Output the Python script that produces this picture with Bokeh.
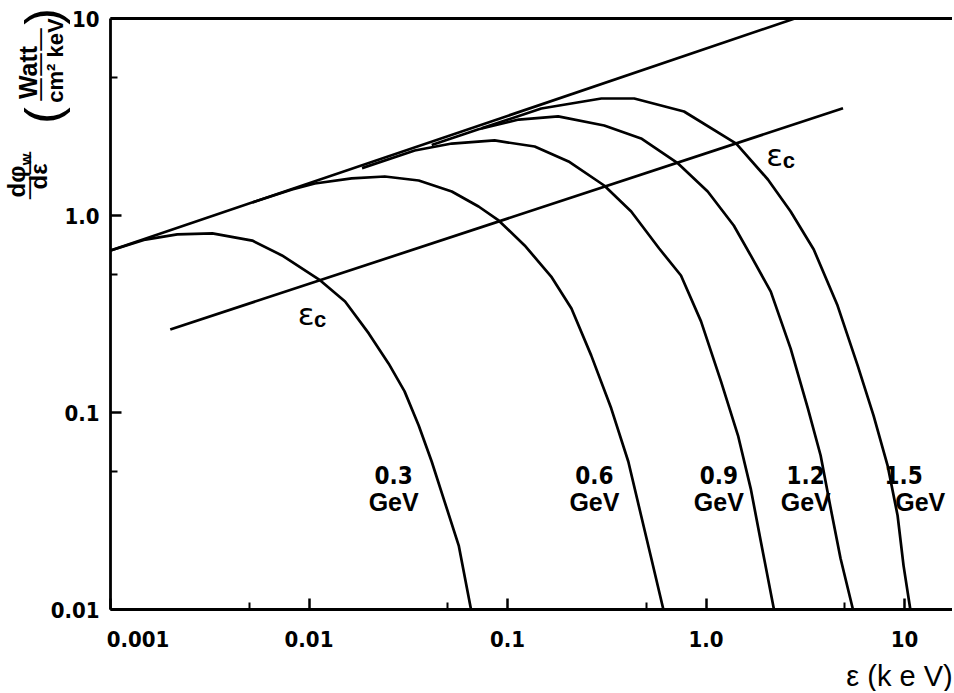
from bokeh.plotting import figure
from bokeh.models import (FixedTicker, CustomJSTickFormatter, Label, LogAxis,
                          LabelSet, ColumnDataSource)
from bokeh.core.properties import value
from bokeh.embed import file_html
from bokeh.resources import INLINE

# ---------------- data ----------------
# low-energy asymptote (upper straight line) and critical-energy line
env_e = [0.001, 2.8]
env_p = [0.664, 10.0]
ec_e = [0.0020, 4.9]
ec_p = [0.264, 3.5]

# spectra dphi/de (Watt/cm2 keV) vs photon energy e (keV)
e03 = [0.001, 0.00150, 0.00217, 0.00326, 0.00518, 0.00731, 0.0114, 0.0152,
       0.0200, 0.0252, 0.0303, 0.0357, 0.0415, 0.0482, 0.0568, 0.0655]
p03 = [0.664, 0.755, 0.802, 0.811, 0.746, 0.627, 0.468, 0.366,
       0.252, 0.177, 0.128, 0.0859, 0.0564, 0.0353, 0.0211, 0.0100]

e06 = [0.00518, 0.00822, 0.0107, 0.0164, 0.0241, 0.0357, 0.0524, 0.0715,
       0.0902, 0.122, 0.166, 0.210, 0.264, 0.333, 0.406, 0.471, 0.530, 0.610]
p06 = [1.164, 1.355, 1.453, 1.542, 1.578, 1.506, 1.324, 1.111,
       0.944, 0.705, 0.490, 0.337, 0.195, 0.105, 0.0564, 0.0300, 0.0182, 0.0100]

e09 = [0.0185, 0.0341, 0.0524, 0.0861, 0.137, 0.203, 0.307, 0.420,
       0.581, 0.748, 0.944, 1.19, 1.45, 1.68, 1.89, 2.20]
p09 = [1.74, 2.138, 2.319, 2.404, 2.239, 1.880, 1.420, 1.048,
       0.680, 0.496, 0.290, 0.144, 0.0764, 0.0411, 0.0221, 0.0100]

e12 = [0.0415, 0.0715, 0.114, 0.180, 0.307, 0.471, 0.723, 1.02,
       1.38, 1.68, 2.12, 2.67, 3.26, 3.78, 4.25, 4.76, 5.50]
p12 = [2.28, 2.74, 3.069, 3.184, 2.864, 2.460, 1.837, 1.324,
       0.890, 0.627, 0.411, 0.211, 0.105, 0.0605, 0.0326, 0.0182, 0.0100]

e15 = [0.0740, 0.148, 0.297, 0.435, 0.775, 1.42, 2.05, 2.67,
       3.49, 4.60, 5.81, 6.98, 8.22, 9.23, 9.89, 10.7]
p15 = [2.77, 3.491, 3.926, 3.926, 3.373, 2.319, 1.523, 1.048,
       0.672, 0.349, 0.173, 0.0966, 0.0538, 0.0300, 0.0167, 0.0100]

# curve labels
energies = ["0.3", "0.6", "0.9", "1.2", "1.5"]
num_x = [0.0267, 0.274, 1.16, 3.18, 9.89]
num_y = [0.0479, 0.0479, 0.0479, 0.0479, 0.0479]
unit_x = [0.0267, 0.274, 1.16, 3.18, 12.0]
unit_y = [0.0353, 0.0353, 0.0353, 0.0353, 0.0353]
ec_label_x = [0.00966, 2.22]
ec_label_y = [0.318, 2.04]

# axes
x_lo, y_lo, y_hi = 0.001, 0.01, 10
x_ticks = [0.001, 0.01, 0.1, 1, 10]
x_tick_labels = ["\u00a0" * 8 + "0.001", "0.01", "0.1", "1.0", "10"]
x_minor = [0.005, 0.05, 0.5, 5]
y_ticks = [0.01, 0.1, 1, 10]
y_tick_labels = ["0.01", "0.1", "1.0", "10"]
y_minor = [0.05, 0.5, 5]

# ---------------- geometry (pixels) ----------------
W, H = 952, 691
AX_X = 110      # pixel column of the y axis (e = 0.001)
AX_TOP = 18     # pixel row of y = 10
DX, DY = 198.5, 197.0   # pixels per decade
x_start = 10 ** (-3 - AX_X / DX)
x_end = 10 ** (-3 + (W - AX_X) / DX)
y_end = 10 ** (1 + AX_TOP / DY)
y_start = 10 ** (-2 - (H - AX_TOP - 3 * DY) / DY)

TICK_FONT = "DejaVu Sans Condensed"
SANS = "Liberation Sans"

p = figure(width=W, height=H, x_axis_type="log", y_axis_type="log",
           x_range=(x_start, x_end), y_range=(y_start, y_end),
           output_backend="svg", toolbar_location=None, min_border=0)
p.grid.visible = False
p.outline_line_color = None
p.background_fill_color = "white"
p.border_fill_color = "white"

fmt_code = """
for (let i = 0; i < vals.length; i++) {
  if (Math.abs(Math.log10(tick) - Math.log10(vals[i])) < 1e-6) return labs[i];
}
return "";
"""
xa = p.xaxis[0]
ya = p.yaxis[0]
xa.fixed_location = y_lo
ya.fixed_location = x_lo
xa.bounds = (x_lo, x_end)
ya.bounds = (y_lo, y_hi)
xa.ticker = FixedTicker(ticks=x_ticks, minor_ticks=x_minor)
ya.ticker = FixedTicker(ticks=y_ticks, minor_ticks=y_minor)
xa.formatter = CustomJSTickFormatter(args=dict(vals=x_ticks, labs=x_tick_labels), code=fmt_code)
ya.formatter = CustomJSTickFormatter(args=dict(vals=y_ticks, labs=y_tick_labels), code=fmt_code)

for ax in (xa, ya):
    ax.axis_line_width = 2.8
    ax.axis_line_color = "black"
    ax.major_tick_in = 11
    ax.major_tick_out = 0
    ax.minor_tick_in = 7
    ax.minor_tick_out = 0
    ax.major_tick_line_width = 2.5
    ax.minor_tick_line_width = 2
    ax.major_tick_line_color = "black"
    ax.minor_tick_line_color = "black"
    ax.major_label_text_font = TICK_FONT
    ax.major_label_text_font_style = "bold"
    ax.major_label_text_font_size = "22px"
    ax.major_label_text_color = "black"
xa.major_label_standoff = 17
ya.major_label_standoff = 11

# top frame line: an axis without ticks at y = 10
top = LogAxis(fixed_location=y_hi, bounds=(x_lo, x_end),
              ticker=FixedTicker(ticks=[], minor_ticks=[]),
              axis_line_width=2.8, axis_line_color="black")
p.add_layout(top, "above")

# lines
LW = 2.7
p.line(env_e, env_p, line_color="black", line_width=LW)
p.line(ec_e, ec_p, line_color="black", line_width=LW)
for xs, ys in ((e03, p03), (e06, p06), (e09, p09), (e12, p12), (e15, p15)):
    p.line(xs, ys, line_color="black", line_width=LW, line_join="round")

# curve labels
src_num = ColumnDataSource(dict(x=num_x, y=num_y, t=energies))
src_unit = ColumnDataSource(dict(x=unit_x, y=unit_y, t=["GeV"] * len(energies)))
p.add_layout(LabelSet(x="x", y="y", text="t", source=src_num, text_font=value(TICK_FONT),
                      text_font_style="bold", text_font_size="24px",
                      text_align="center", text_baseline="middle", text_color="black"))
p.add_layout(LabelSet(x="x", y="y", text="t", source=src_unit, text_font=value(SANS),
                      text_font_style="bold", text_font_size="25px",
                      text_align="center", text_baseline="middle", text_color="black"))

src_ec = ColumnDataSource(dict(x=ec_label_x, y=ec_label_y, e=["\u03b5", "\u03b5"], c=["c", "c"]))
p.add_layout(LabelSet(x="x", y="y", text="e", source=src_ec, text_font=value("DejaVu Sans"),
                      text_font_size="31px", text_align="center", text_baseline="middle",
                      text_color="black"))
p.add_layout(LabelSet(x="x", y="y", text="c", source=src_ec, text_font=value(SANS),
                      text_font_style="bold", text_font_size="22px", x_offset=14, y_offset=-6,
                      text_align="center", text_baseline="middle", text_color="black"))


# texts placed by pixel offsets from the canvas' top-left corner
def place(text, px, py, size, font=SANS, style="bold", angle=0):
    p.add_layout(Label(x=x_start, y=y_end, x_offset=px, y_offset=-py,
                       text=text, text_font=font, text_font_style=style,
                       text_font_size=f"{size}px", text_align="center",
                       text_baseline="middle", angle=angle, angle_units="deg",
                       text_color="black"))


place("\u03b5 (k e V)", 899, 675, 29, style="normal")

# rotated y-axis title:  d(phi_w)/d(eps)  (Watt / cm^2 keV)
place("d\u03c6", 16, 181, 24, angle=90)
place("w", 25, 159, 15, angle=90)
place("\u2014\u2014", 28, 175, 25, font="DejaVu Sans", style="normal", angle=90)
place("d\u03b5", 38, 176, 24, angle=90)
place("(", 42, 115, 50, style="normal", angle=90)
place("Watt", 27, 72, 25, angle=90)
place("\u2014\u2014\u2014", 39, 64, 25, font="DejaVu Sans", style="normal", angle=90)
place("cm\u00b2 keV", 55, 60, 22, angle=90)
place(")", 42, 16, 50, style="normal", angle=90)

open("out.html", "w").write(file_html(p, INLINE))
